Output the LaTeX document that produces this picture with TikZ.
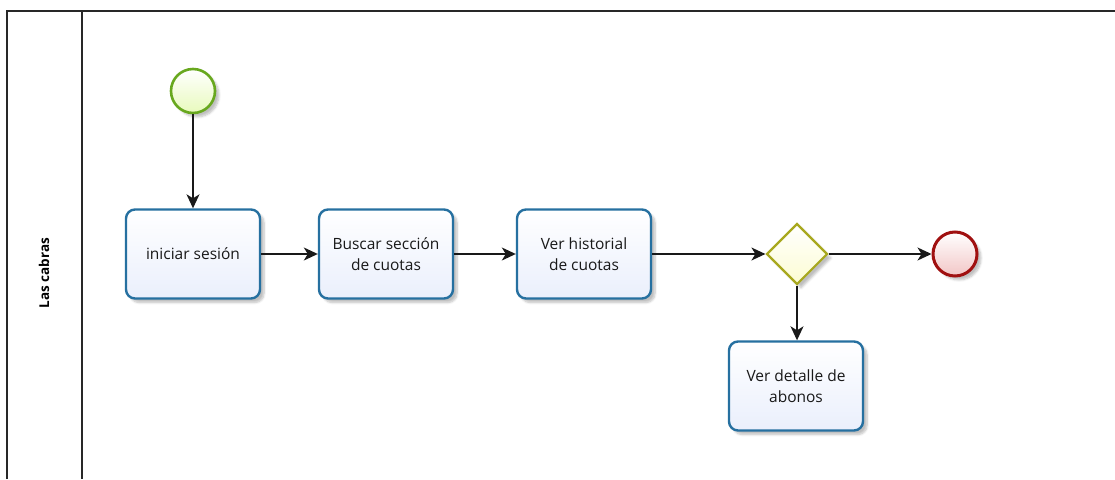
\documentclass[tikz,border=0pt]{standalone}
\usepackage{fontspec}
\setmainfont{Open Sans}
\usetikzlibrary{shapes.geometric,arrows.meta,shadows.blur}

\definecolor{taskline}{RGB}{38,112,160}
\definecolor{taskfill}{RGB}{234,239,252}
\definecolor{startline}{RGB}{104,168,30}
\definecolor{startfill}{RGB}{232,250,188}
\definecolor{gateline}{RGB}{168,168,30}
\definecolor{gatefill}{RGB}{252,252,210}
\definecolor{endline}{RGB}{160,16,16}
\definecolor{endfill}{RGB}{242,198,198}
\definecolor{poolline}{RGB}{40,40,40}

\tikzset{
  softshadow/.style={blur shadow={shadow xshift=4pt,shadow yshift=-4pt,shadow blur steps=6,shadow opacity=25}},
  taskbox/.style={draw=taskline, line width=2.4pt, rounded corners=9pt,
    top color=white, bottom color=taskfill, minimum width=134pt, minimum height=89pt,
    align=center, font=\fontsize{15.5}{21}\selectfont, text=black!90, softshadow},
  startev/.style={circle, draw=startline, line width=2.6pt, minimum size=44pt,
    inner sep=0pt, top color=white, bottom color=startfill, softshadow},
  endev/.style={circle, draw=endline, line width=3pt, minimum size=44pt,
    inner sep=0pt, top color=white, bottom color=endfill, softshadow},
  gateway/.style={diamond, draw=gateline, line width=2.2pt, minimum width=61pt,
    minimum height=61pt, inner sep=0pt, aspect=1, top color=white, bottom color=gatefill, softshadow},
  flow/.style={draw=black!90, line width=1.4pt, -{Stealth[length=14pt,width=13pt,inset=4pt]}},
  pool/.style={draw=poolline, line width=1.8pt}
}

\begin{document}
\begin{tikzpicture}[x=1pt,y=-1pt]
  \useasboundingbox (0,0) rectangle (1115,479);

  % pool and lane borders
  \coordinate (pTL) at (7,11);
  \coordinate (pTR) at (1115,11);
  \coordinate (pBL) at (7,479);
  \coordinate (lT) at (82,11);
  \coordinate (lB) at (82,479);
  \draw[pool] (pBL) -- (pTL) -- (pTR);
  \draw[pool] (lT) -- (lB);
  \node[rotate=90, font=\bfseries\fontsize{13.5}{16}\selectfont] (lane) at (44,273) {Las cabras};

  % events, tasks and gateway
  \node[startev] (start) at (193,91) {};
  \node[taskbox] (t1) at (193,254) {iniciar sesión};
  \node[taskbox] (t2) at (386,254) {Buscar sección\\de cuotas};
  \node[taskbox] (t3) at (584,254) {Ver historial\\de cuotas};
  \node[gateway] (gw) at (797,254) {};
  \node[endev] (end) at (955,254) {};
  \node[taskbox] (t4) at (796,386) {Ver detalle de\\abonos};

  % sequence flows
  \draw[flow] (start) -- (t1);
  \draw[flow] (t1) -- (t2);
  \draw[flow] (t2) -- (t3);
  \draw[flow] (t3) -- (gw);
  \draw[flow] (gw) -- (end);
  \draw[flow] (gw.south) -- (t4.north -| gw.south);
\end{tikzpicture}
\end{document}
